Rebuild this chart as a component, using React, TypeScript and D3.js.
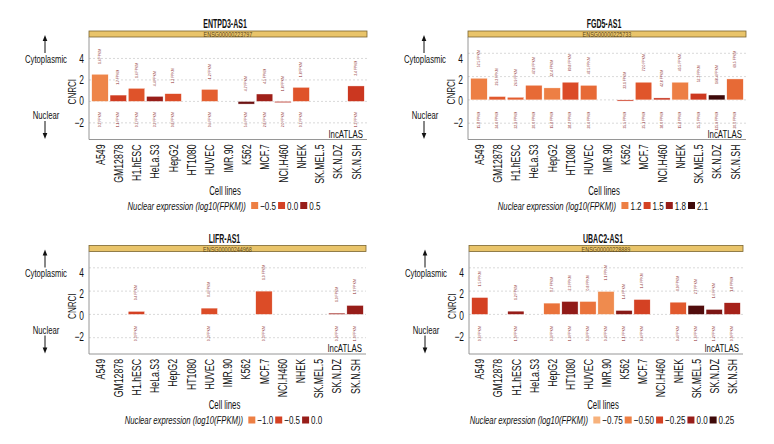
import React from "react";
import * as d3 from "d3";

const cellLines = ["A549", "GM12878", "H1.hESC", "HeLa.S3", "HepG2", "HT1080", "HUVEC", "IMR.90", "K562", "MCF.7", "NCI.H460", "NHEK", "SK.MEL.5", "SK.N.DZ", "SK.N.SH"];

const genes = ["ENTPD3-AS1", "FGD5-AS1", "LIFR-AS1", "UBAC2-AS1"];
const ensemblIds = ["ENSG00000223797", "ENSG00000225733", "ENSG00000244968", "ENSG00000228889"];

// CNRCI per cell line (null = not detected)
const cnrciENTPD3 = [2.53, 0.59, 1.22, 0.47, 0.72, null, 1.12, null, -0.25, 0.69, -0.12, 1.31, null, null, 1.44];
const cnrciFGD5 = [1.86, 0.29, 0.23, 1.26, 1.03, 1.52, 1.25, null, -0.1, 1.52, 0.17, 1.52, 0.56, 0.42, 1.8];
const cnrciLIFR = [null, null, 0.26, null, null, null, 0.54, null, null, 2.0, null, null, null, 0.11, 0.77];
const cnrciUBAC2 = [1.45, null, 0.28, null, 0.97, 1.11, 1.11, 1.97, 0.34, 1.28, null, 1.05, 0.77, 0.43, 1.0];

// Nuclear expression, log10(FPKM)
const nucENTPD3 = [-0.55, 0.05, -0.15, 0.5, -0.1, null, -0.25, null, 0.75, 0.45, 0.3, -0.15, null, null, 0.1];
const nucFGD5 = [1.2, 1.38, 1.36, 1.3, 1.2, 1.45, 1.3, null, 1.55, 1.4, 1.58, 1.2, 1.55, 2.1, 1.3];
const nucLIFR = [null, null, -0.5, null, null, null, -0.6, null, null, -0.6, null, null, null, -0.05, 0.0];
const nucUBAC2 = [-0.25, null, 0.0, null, -0.45, 0.02, -0.45, -0.55, 0.05, -0.25, null, -0.35, 0.2, 0.08, -0.05];

const legendENTPD3 = [-0.5, 0.0, 0.5];
const legendFGD5 = [1.2, 1.5, 1.8, 2.1];
const legendLIFR = [-1.0, -0.5, 0.0];
const legendUBAC2 = [-0.75, -0.5, -0.25, 0.0, 0.25];

const legendLabelsENTPD3 = ["\u22120.5", "0.0", "0.5"];
const legendLabelsFGD5 = ["1.2", "1.5", "1.8", "2.1"];
const legendLabelsLIFR = ["\u22121.0", "\u22120.5", "0.0"];
const legendLabelsUBAC2 = ["\u22120.75", "\u22120.50", "\u22120.25", "0.0", "0.25"];

const yTicks = [-2, 0, 2, 4];

const FONT = "'Liberation Sans', Arial, sans-serif";
const SX = 0.7; // horizontal condensing to mimic a condensed typeface
const INK = "#111";
const palette = d3.interpolateRgbBasis(["#F7B27C", "#EE8440", "#DC3A1E", "#9C1B1B", "#3E0909"]);

let ctx: CanvasRenderingContext2D | null = null;
function measure(text: string, font: string): number {
  if (!ctx) ctx = document.createElement("canvas").getContext("2d");
  if (!ctx) return text.length * 5;
  ctx.font = font;
  return ctx.measureText(text).width;
}

type TProps = {
  x: number;
  y: number;
  rot?: number;
  sx?: number;
  children: React.ReactNode;
  [k: string]: any;
};
function T({ x, y, rot = 0, sx = SX, children, ...rest }: TProps) {
  return (
    <text transform={`translate(${x},${y}) rotate(${rot}) scale(${sx},1)`} dominantBaseline="central" fill={INK} {...rest}>
      {children}
    </text>
  );
}

type PanelProps = {
  gene: string;
  ensId: string;
  cnrci: (number | null)[];
  nuc: (number | null)[];
  colorDomain: [number, number];
  legendValues: number[];
  legendLabels: string[];
  yDomain: [number, number];
  x0: number;
  x1: number;
  stripTop: number;
};

function Panel(p: PanelProps) {
  const stripH = 6;
  const plotTop = p.stripTop + stripH;
  const plotBottom = plotTop + 102.5;
  const cx = (p.x0 + p.x1) / 2 - 3;

  const x = d3.scaleBand<string>().domain(cellLines).range([p.x0, p.x1]).paddingInner(0.1).paddingOuter(0.15);
  const y = d3.scaleLinear().domain(p.yDomain).range([plotBottom, plotTop]);
  const yLab = d3.scaleLinear().domain([-3.55, 6.0]).range([plotBottom, plotTop]);
  const color = d3.scaleSequential(palette).domain(p.colorDomain);
  const fmt = d3.format(".1f");

  // legend layout
  const legFS = 11.5;
  const title = "Nuclear expression (log10(FPKM))";
  const titleW = measure(title, `italic ${legFS}px ${FONT}`) * 0.67;
  const sq = 7;
  const items = p.legendLabels.map((l) => measure(l, `${legFS}px ${FONT}`) * SX);
  const gapAfterTitle = 5;
  const totalW = titleW + gapAfterTitle + items.reduce((a, w) => a + sq + 2 + w + 2, 0);
  const legendStart = cx - totalW / 2;
  const legY = plotBottom + 66;
  const itemPos: { sx: number; tx: number }[] = [];
  let cur = legendStart + titleW + gapAfterTitle;
  items.forEach((w) => {
    itemPos.push({ sx: cur, tx: cur + sq + 2 });
    cur += sq + 2 + w + 2;
  });

  const arrowX = p.x0 - 44;

  return (
    <g fontFamily={FONT}>
      <T x={cx} y={p.stripTop - 7} sx={0.56} textAnchor="middle" fontWeight="bold" fontSize={12.5}>
        {p.gene}
      </T>
      <rect x={p.x0} y={p.stripTop} width={p.x1 - p.x0} height={stripH} fill="#E9C46A" stroke="#7A6530" strokeWidth={0.8} />
      <T x={(p.x0 + p.x1) / 2} y={p.stripTop + stripH / 2 + 0.3} sx={0.78} textAnchor="middle" fontSize={7} fill="#5A4418">
        {p.ensId}
      </T>

      {yTicks.map((t) => (
        <line key={t} x1={p.x0} x2={p.x1} y1={y(t)} y2={y(t)} stroke="#cfcfcf" strokeWidth={0.8} strokeDasharray="2,2" />
      ))}

      {cellLines.map((c, i) => {
        const v = p.cnrci[i];
        const n = p.nuc[i];
        if (v === null || n === null) return null;
        const bx = x(c) as number;
        const bw = x.bandwidth();
        const top = Math.min(y(v), y(0));
        const h = Math.abs(y(v) - y(0));
        const mid = bx + bw / 2;
        const nucF = Math.pow(10, n);
        const cytF = nucF * Math.pow(2, v);
        const ya = y(Math.max(v, 0) + 0.95);
        const yb = y(-1);
        return (
          <g key={c}>
            <rect x={bx} y={top} width={bw} height={Math.max(h, 0.8)} fill={color(n)} stroke="#fff" strokeWidth={0.4} />
            <T x={mid} y={ya} rot={-90} sx={0.85} fontSize={4} fill="#8B2A2A">
              {fmt(cytF)} FPKM
            </T>
            <T x={mid} y={yb} rot={-90} sx={0.85} fontSize={4} fill="#8B2A2A" textAnchor="end">
              {fmt(nucF)} FPKM
            </T>
          </g>
        );
      })}

      <line x1={p.x0} x2={p.x0} y1={plotTop} y2={plotBottom} stroke="#8a8a8a" strokeWidth={0.9} />
      <line x1={p.x0} x2={p.x1} y1={plotBottom} y2={plotBottom} stroke="#8a8a8a" strokeWidth={0.9} />

      {yTicks.map((t) => (
        <T key={t} x={p.x0 - 5} y={yLab(t)} textAnchor="end" fontSize={12}>
          {t < 0 ? `\u2212${Math.abs(t)}` : String(t)}
        </T>
      ))}
      <T x={p.x0 - 17} y={yLab(1) + 1} rot={-90} textAnchor="middle" fontSize={11.5}>
        CNRCI
      </T>
      <T x={p.x1 - 4} y={plotBottom - 6} textAnchor="end" fontSize={11.5} sx={0.68}>
        lncATLAS
      </T>

      {cellLines.map((c) => (
        <T key={c} x={(x(c) as number) + x.bandwidth() / 2} y={plotBottom + 5} rot={-90} textAnchor="end" fontSize={12.5}>
          {c}
        </T>
      ))}

      <T x={cx} y={plotBottom + 51} textAnchor="middle" fontSize={12} sx={0.65}>
        Cell lines
      </T>

      <T x={legendStart} y={legY} fontSize={legFS} fontStyle="italic" sx={0.67}>
        {title}
      </T>
      {p.legendValues.map((v, i) => (
        <g key={i}>
          <rect x={itemPos[i].sx} y={legY - sq / 2} width={sq} height={sq} fill={color(v)} />
          <T x={itemPos[i].tx} y={legY} fontSize={legFS}>
            {p.legendLabels[i]}
          </T>
        </g>
      ))}

      {/* direction annotations */}
      <line x1={arrowX} x2={arrowX} y1={plotTop + 16} y2={plotTop + 2} stroke={INK} strokeWidth={1} />
      <path d={`M${arrowX},${plotTop - 2} L${arrowX - 2.3},${plotTop + 4} L${arrowX + 2.3},${plotTop + 4} Z`} fill={INK} />
      <T x={arrowX + 1} y={yLab(4)} textAnchor="middle" fontSize={11.5} sx={0.67}>
        Cytoplasmic
      </T>
      <T x={arrowX + 1} y={plotTop + 78} textAnchor="middle" fontSize={11.5} sx={0.67}>
        Nuclear
      </T>
      <line x1={arrowX} x2={arrowX} y1={plotTop + 84} y2={plotTop + 98} stroke={INK} strokeWidth={1} />
      <path d={`M${arrowX},${plotTop + 102} L${arrowX - 2.3},${plotTop + 96} L${arrowX + 2.3},${plotTop + 96} Z`} fill={INK} />
    </g>
  );
}

export default function App() {
  return (
    <svg width={774} height={444} viewBox="0 0 774 444" style={{ display: "block", position: "absolute", left: 0, top: 0, background: "#fff" }}>
      <Panel gene={genes[0]} ensId={ensemblIds[0]} cnrci={cnrciENTPD3} nuc={nucENTPD3} colorDomain={[-1, 1]} legendValues={legendENTPD3} legendLabels={legendLabelsENTPD3} yDomain={[-3.55, 6.0]} x0={89} x1={367} stripTop={31} />
      <Panel gene={genes[1]} ensId={ensemblIds[1]} cnrci={cnrciFGD5} nuc={nucFGD5} colorDomain={[0.9, 2.1]} legendValues={legendFGD5} legendLabels={legendLabelsFGD5} yDomain={[-3.4, 5.4]} x0={468} x1={746} stripTop={31} />
      <Panel gene={genes[2]} ensId={ensemblIds[2]} cnrci={cnrciLIFR} nuc={nucLIFR} colorDomain={[-1.5, 0.5]} legendValues={legendLIFR} legendLabels={legendLabelsLIFR} yDomain={[-3.4, 5.4]} x0={89} x1={366} stripTop={245.5} />
      <Panel gene={genes[3]} ensId={ensemblIds[3]} cnrci={cnrciUBAC2} nuc={nucUBAC2} colorDomain={[-0.75, 0.25]} legendValues={legendUBAC2} legendLabels={legendLabelsUBAC2} yDomain={[-3.4, 5.4]} x0={469} x1={743} stripTop={245.5} />
    </svg>
  );
}
